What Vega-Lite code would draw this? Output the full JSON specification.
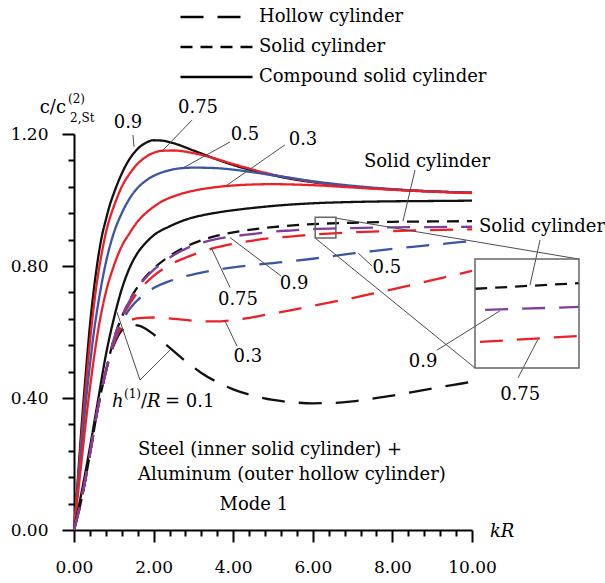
{
  "$schema": "https://vega.github.io/schema/vega-lite/v6.json",
  "width": 398,
  "height": 396,
  "autosize": {"type": "none"},
  "padding": {"left": 74, "top": 134, "right": 133, "bottom": 53},
  "background": "white",
  "config": {"view": {"stroke": null}, "font": "DejaVu Serif"},
  "datasets": {
    "curves": [
      {"s":"C0.9","t":"Compound solid cylinder","x":0,"y":0},{"s":"C0.9","t":"Compound solid cylinder","x":0.1,"y":0.16},{"s":"C0.9","t":"Compound solid cylinder","x":0.2,"y":0.33},{"s":"C0.9","t":"Compound solid cylinder","x":0.3,"y":0.48},{"s":"C0.9","t":"Compound solid cylinder","x":0.4,"y":0.62},{"s":"C0.9","t":"Compound solid cylinder","x":0.5,"y":0.73},{"s":"C0.9","t":"Compound solid cylinder","x":0.6,"y":0.82},{"s":"C0.9","t":"Compound solid cylinder","x":0.7,"y":0.89},{"s":"C0.9","t":"Compound solid cylinder","x":0.8,"y":0.94},{"s":"C0.9","t":"Compound solid cylinder","x":0.9,"y":0.985},{"s":"C0.9","t":"Compound solid cylinder","x":1.0,"y":1.02},{"s":"C0.9","t":"Compound solid cylinder","x":1.2,"y":1.08},{"s":"C0.9","t":"Compound solid cylinder","x":1.4,"y":1.125},{"s":"C0.9","t":"Compound solid cylinder","x":1.6,"y":1.155},{"s":"C0.9","t":"Compound solid cylinder","x":1.8,"y":1.173},{"s":"C0.9","t":"Compound solid cylinder","x":2.0,"y":1.181},{"s":"C0.9","t":"Compound solid cylinder","x":2.2,"y":1.18},{"s":"C0.9","t":"Compound solid cylinder","x":2.5,"y":1.172},{"s":"C0.9","t":"Compound solid cylinder","x":3.0,"y":1.15},{"s":"C0.9","t":"Compound solid cylinder","x":3.5,"y":1.127},{"s":"C0.9","t":"Compound solid cylinder","x":4.0,"y":1.106},{"s":"C0.9","t":"Compound solid cylinder","x":4.5,"y":1.089},{"s":"C0.9","t":"Compound solid cylinder","x":5.0,"y":1.075},{"s":"C0.9","t":"Compound solid cylinder","x":5.5,"y":1.063},{"s":"C0.9","t":"Compound solid cylinder","x":6,"y":1.054},{"s":"C0.9","t":"Compound solid cylinder","x":7,"y":1.04},{"s":"C0.9","t":"Compound solid cylinder","x":8,"y":1.032},{"s":"C0.9","t":"Compound solid cylinder","x":9,"y":1.026},{"s":"C0.9","t":"Compound solid cylinder","x":10,"y":1.022},

      {"s":"C0.75","t":"Compound solid cylinder","x":0,"y":0},{"s":"C0.75","t":"Compound solid cylinder","x":0.1,"y":0.15},{"s":"C0.75","t":"Compound solid cylinder","x":0.2,"y":0.3},{"s":"C0.75","t":"Compound solid cylinder","x":0.3,"y":0.44},{"s":"C0.75","t":"Compound solid cylinder","x":0.4,"y":0.57},{"s":"C0.75","t":"Compound solid cylinder","x":0.5,"y":0.68},{"s":"C0.75","t":"Compound solid cylinder","x":0.6,"y":0.77},{"s":"C0.75","t":"Compound solid cylinder","x":0.7,"y":0.84},{"s":"C0.75","t":"Compound solid cylinder","x":0.8,"y":0.9},{"s":"C0.75","t":"Compound solid cylinder","x":0.9,"y":0.945},{"s":"C0.75","t":"Compound solid cylinder","x":1.0,"y":0.98},{"s":"C0.75","t":"Compound solid cylinder","x":1.2,"y":1.04},{"s":"C0.75","t":"Compound solid cylinder","x":1.4,"y":1.08},{"s":"C0.75","t":"Compound solid cylinder","x":1.6,"y":1.11},{"s":"C0.75","t":"Compound solid cylinder","x":1.8,"y":1.13},{"s":"C0.75","t":"Compound solid cylinder","x":2.0,"y":1.143},{"s":"C0.75","t":"Compound solid cylinder","x":2.2,"y":1.149},{"s":"C0.75","t":"Compound solid cylinder","x":2.5,"y":1.15},{"s":"C0.75","t":"Compound solid cylinder","x":3.0,"y":1.142},{"s":"C0.75","t":"Compound solid cylinder","x":3.5,"y":1.127},{"s":"C0.75","t":"Compound solid cylinder","x":4.0,"y":1.109},{"s":"C0.75","t":"Compound solid cylinder","x":4.5,"y":1.092},{"s":"C0.75","t":"Compound solid cylinder","x":5.0,"y":1.077},{"s":"C0.75","t":"Compound solid cylinder","x":5.5,"y":1.065},{"s":"C0.75","t":"Compound solid cylinder","x":6,"y":1.055},{"s":"C0.75","t":"Compound solid cylinder","x":7,"y":1.041},{"s":"C0.75","t":"Compound solid cylinder","x":8,"y":1.032},{"s":"C0.75","t":"Compound solid cylinder","x":9,"y":1.026},{"s":"C0.75","t":"Compound solid cylinder","x":10,"y":1.022},

      {"s":"C0.5","t":"Compound solid cylinder","x":0,"y":0},{"s":"C0.5","t":"Compound solid cylinder","x":0.1,"y":0.13},{"s":"C0.5","t":"Compound solid cylinder","x":0.2,"y":0.26},{"s":"C0.5","t":"Compound solid cylinder","x":0.3,"y":0.39},{"s":"C0.5","t":"Compound solid cylinder","x":0.4,"y":0.5},{"s":"C0.5","t":"Compound solid cylinder","x":0.5,"y":0.6},{"s":"C0.5","t":"Compound solid cylinder","x":0.6,"y":0.68},{"s":"C0.5","t":"Compound solid cylinder","x":0.7,"y":0.75},{"s":"C0.5","t":"Compound solid cylinder","x":0.8,"y":0.81},{"s":"C0.5","t":"Compound solid cylinder","x":1.0,"y":0.9},{"s":"C0.5","t":"Compound solid cylinder","x":1.2,"y":0.96},{"s":"C0.5","t":"Compound solid cylinder","x":1.4,"y":1.005},{"s":"C0.5","t":"Compound solid cylinder","x":1.6,"y":1.037},{"s":"C0.5","t":"Compound solid cylinder","x":1.8,"y":1.058},{"s":"C0.5","t":"Compound solid cylinder","x":2.0,"y":1.073},{"s":"C0.5","t":"Compound solid cylinder","x":2.3,"y":1.087},{"s":"C0.5","t":"Compound solid cylinder","x":2.6,"y":1.095},{"s":"C0.5","t":"Compound solid cylinder","x":3.0,"y":1.098},{"s":"C0.5","t":"Compound solid cylinder","x":3.5,"y":1.097},{"s":"C0.5","t":"Compound solid cylinder","x":4.0,"y":1.092},{"s":"C0.5","t":"Compound solid cylinder","x":4.5,"y":1.084},{"s":"C0.5","t":"Compound solid cylinder","x":5.0,"y":1.075},{"s":"C0.5","t":"Compound solid cylinder","x":5.5,"y":1.066},{"s":"C0.5","t":"Compound solid cylinder","x":6,"y":1.057},{"s":"C0.5","t":"Compound solid cylinder","x":7,"y":1.043},{"s":"C0.5","t":"Compound solid cylinder","x":8,"y":1.033},{"s":"C0.5","t":"Compound solid cylinder","x":9,"y":1.026},{"s":"C0.5","t":"Compound solid cylinder","x":10,"y":1.022},

      {"s":"C0.3","t":"Compound solid cylinder","x":0,"y":0},{"s":"C0.3","t":"Compound solid cylinder","x":0.1,"y":0.11},{"s":"C0.3","t":"Compound solid cylinder","x":0.2,"y":0.22},{"s":"C0.3","t":"Compound solid cylinder","x":0.3,"y":0.33},{"s":"C0.3","t":"Compound solid cylinder","x":0.4,"y":0.43},{"s":"C0.3","t":"Compound solid cylinder","x":0.5,"y":0.52},{"s":"C0.3","t":"Compound solid cylinder","x":0.6,"y":0.6},{"s":"C0.3","t":"Compound solid cylinder","x":0.8,"y":0.72},{"s":"C0.3","t":"Compound solid cylinder","x":1.0,"y":0.8},{"s":"C0.3","t":"Compound solid cylinder","x":1.2,"y":0.86},{"s":"C0.3","t":"Compound solid cylinder","x":1.4,"y":0.9},{"s":"C0.3","t":"Compound solid cylinder","x":1.6,"y":0.935},{"s":"C0.3","t":"Compound solid cylinder","x":1.9,"y":0.97},{"s":"C0.3","t":"Compound solid cylinder","x":2.2,"y":0.995},{"s":"C0.3","t":"Compound solid cylinder","x":2.6,"y":1.015},{"s":"C0.3","t":"Compound solid cylinder","x":3.0,"y":1.028},{"s":"C0.3","t":"Compound solid cylinder","x":3.5,"y":1.038},{"s":"C0.3","t":"Compound solid cylinder","x":4.0,"y":1.044},{"s":"C0.3","t":"Compound solid cylinder","x":4.5,"y":1.047},{"s":"C0.3","t":"Compound solid cylinder","x":5.0,"y":1.048},{"s":"C0.3","t":"Compound solid cylinder","x":5.5,"y":1.047},{"s":"C0.3","t":"Compound solid cylinder","x":6,"y":1.045},{"s":"C0.3","t":"Compound solid cylinder","x":7,"y":1.038},{"s":"C0.3","t":"Compound solid cylinder","x":8,"y":1.031},{"s":"C0.3","t":"Compound solid cylinder","x":9,"y":1.025},{"s":"C0.3","t":"Compound solid cylinder","x":10,"y":1.021},

      {"s":"C0.1","t":"Compound solid cylinder","x":0,"y":0},{"s":"C0.1","t":"Compound solid cylinder","x":0.2,"y":0.12},{"s":"C0.1","t":"Compound solid cylinder","x":0.4,"y":0.25},{"s":"C0.1","t":"Compound solid cylinder","x":0.6,"y":0.39},{"s":"C0.1","t":"Compound solid cylinder","x":0.8,"y":0.53},{"s":"C0.1","t":"Compound solid cylinder","x":1.0,"y":0.64},{"s":"C0.1","t":"Compound solid cylinder","x":1.2,"y":0.73},{"s":"C0.1","t":"Compound solid cylinder","x":1.4,"y":0.795},{"s":"C0.1","t":"Compound solid cylinder","x":1.6,"y":0.84},{"s":"C0.1","t":"Compound solid cylinder","x":1.8,"y":0.87},{"s":"C0.1","t":"Compound solid cylinder","x":2.0,"y":0.893},{"s":"C0.1","t":"Compound solid cylinder","x":2.4,"y":0.92},{"s":"C0.1","t":"Compound solid cylinder","x":2.8,"y":0.94},{"s":"C0.1","t":"Compound solid cylinder","x":3.2,"y":0.953},{"s":"C0.1","t":"Compound solid cylinder","x":3.6,"y":0.962},{"s":"C0.1","t":"Compound solid cylinder","x":4.0,"y":0.969},{"s":"C0.1","t":"Compound solid cylinder","x":4.5,"y":0.976},{"s":"C0.1","t":"Compound solid cylinder","x":5.0,"y":0.982},{"s":"C0.1","t":"Compound solid cylinder","x":6,"y":0.99},{"s":"C0.1","t":"Compound solid cylinder","x":7,"y":0.994},{"s":"C0.1","t":"Compound solid cylinder","x":8,"y":0.996},{"s":"C0.1","t":"Compound solid cylinder","x":9,"y":0.997},{"s":"C0.1","t":"Compound solid cylinder","x":10,"y":0.998},

      {"s":"S","t":"Solid cylinder","x":0,"y":0},{"s":"S","t":"Solid cylinder","x":0.2,"y":0.1},{"s":"S","t":"Solid cylinder","x":0.4,"y":0.23},{"s":"S","t":"Solid cylinder","x":0.6,"y":0.37},{"s":"S","t":"Solid cylinder","x":0.8,"y":0.48},{"s":"S","t":"Solid cylinder","x":1.0,"y":0.578},{"s":"S","t":"Solid cylinder","x":1.2,"y":0.645},{"s":"S","t":"Solid cylinder","x":1.4,"y":0.697},{"s":"S","t":"Solid cylinder","x":1.7,"y":0.753},{"s":"S","t":"Solid cylinder","x":2.0,"y":0.792},{"s":"S","t":"Solid cylinder","x":2.4,"y":0.83},{"s":"S","t":"Solid cylinder","x":2.8,"y":0.858},{"s":"S","t":"Solid cylinder","x":3.2,"y":0.878},{"s":"S","t":"Solid cylinder","x":3.6,"y":0.892},{"s":"S","t":"Solid cylinder","x":4.0,"y":0.902},{"s":"S","t":"Solid cylinder","x":4.5,"y":0.911},{"s":"S","t":"Solid cylinder","x":5.0,"y":0.918},{"s":"S","t":"Solid cylinder","x":5.5,"y":0.923},{"s":"S","t":"Solid cylinder","x":6,"y":0.927},{"s":"S","t":"Solid cylinder","x":7,"y":0.931},{"s":"S","t":"Solid cylinder","x":8,"y":0.934},{"s":"S","t":"Solid cylinder","x":9,"y":0.935},{"s":"S","t":"Solid cylinder","x":10,"y":0.936},

      {"s":"H0.1","t":"Hollow cylinder","x":0,"y":0},{"s":"H0.1","t":"Hollow cylinder","x":0.2,"y":0.1},{"s":"H0.1","t":"Hollow cylinder","x":0.4,"y":0.23},{"s":"H0.1","t":"Hollow cylinder","x":0.6,"y":0.37},{"s":"H0.1","t":"Hollow cylinder","x":0.8,"y":0.48},{"s":"H0.1","t":"Hollow cylinder","x":1.0,"y":0.56},{"s":"H0.1","t":"Hollow cylinder","x":1.2,"y":0.605},{"s":"H0.1","t":"Hollow cylinder","x":1.4,"y":0.622},{"s":"H0.1","t":"Hollow cylinder","x":1.6,"y":0.62},{"s":"H0.1","t":"Hollow cylinder","x":1.8,"y":0.61},{"s":"H0.1","t":"Hollow cylinder","x":2.0,"y":0.593},{"s":"H0.1","t":"Hollow cylinder","x":2.4,"y":0.553},{"s":"H0.1","t":"Hollow cylinder","x":2.8,"y":0.512},{"s":"H0.1","t":"Hollow cylinder","x":3.2,"y":0.476},{"s":"H0.1","t":"Hollow cylinder","x":3.6,"y":0.448},{"s":"H0.1","t":"Hollow cylinder","x":4.0,"y":0.426},{"s":"H0.1","t":"Hollow cylinder","x":4.5,"y":0.407},{"s":"H0.1","t":"Hollow cylinder","x":5.0,"y":0.394},{"s":"H0.1","t":"Hollow cylinder","x":5.5,"y":0.387},{"s":"H0.1","t":"Hollow cylinder","x":6.0,"y":0.384},{"s":"H0.1","t":"Hollow cylinder","x":6.5,"y":0.385},{"s":"H0.1","t":"Hollow cylinder","x":7.0,"y":0.39},{"s":"H0.1","t":"Hollow cylinder","x":7.5,"y":0.398},{"s":"H0.1","t":"Hollow cylinder","x":8.0,"y":0.407},{"s":"H0.1","t":"Hollow cylinder","x":8.5,"y":0.418},{"s":"H0.1","t":"Hollow cylinder","x":9.0,"y":0.429},{"s":"H0.1","t":"Hollow cylinder","x":9.5,"y":0.439},{"s":"H0.1","t":"Hollow cylinder","x":10,"y":0.449},

      {"s":"H0.3","t":"Hollow cylinder","x":0,"y":0},{"s":"H0.3","t":"Hollow cylinder","x":0.2,"y":0.1},{"s":"H0.3","t":"Hollow cylinder","x":0.4,"y":0.23},{"s":"H0.3","t":"Hollow cylinder","x":0.6,"y":0.37},{"s":"H0.3","t":"Hollow cylinder","x":0.8,"y":0.48},{"s":"H0.3","t":"Hollow cylinder","x":1.0,"y":0.565},{"s":"H0.3","t":"Hollow cylinder","x":1.2,"y":0.615},{"s":"H0.3","t":"Hollow cylinder","x":1.4,"y":0.635},{"s":"H0.3","t":"Hollow cylinder","x":1.7,"y":0.643},{"s":"H0.3","t":"Hollow cylinder","x":2.0,"y":0.644},{"s":"H0.3","t":"Hollow cylinder","x":2.5,"y":0.64},{"s":"H0.3","t":"Hollow cylinder","x":3.0,"y":0.634},{"s":"H0.3","t":"Hollow cylinder","x":3.5,"y":0.632},{"s":"H0.3","t":"Hollow cylinder","x":4.0,"y":0.636},{"s":"H0.3","t":"Hollow cylinder","x":4.5,"y":0.645},{"s":"H0.3","t":"Hollow cylinder","x":5.0,"y":0.656},{"s":"H0.3","t":"Hollow cylinder","x":5.5,"y":0.667},{"s":"H0.3","t":"Hollow cylinder","x":6.0,"y":0.679},{"s":"H0.3","t":"Hollow cylinder","x":6.5,"y":0.691},{"s":"H0.3","t":"Hollow cylinder","x":7.0,"y":0.703},{"s":"H0.3","t":"Hollow cylinder","x":7.5,"y":0.716},{"s":"H0.3","t":"Hollow cylinder","x":8.0,"y":0.729},{"s":"H0.3","t":"Hollow cylinder","x":8.5,"y":0.743},{"s":"H0.3","t":"Hollow cylinder","x":9.0,"y":0.757},{"s":"H0.3","t":"Hollow cylinder","x":9.5,"y":0.771},{"s":"H0.3","t":"Hollow cylinder","x":10,"y":0.785},

      {"s":"H0.5","t":"Hollow cylinder","x":0,"y":0},{"s":"H0.5","t":"Hollow cylinder","x":0.2,"y":0.1},{"s":"H0.5","t":"Hollow cylinder","x":0.4,"y":0.23},{"s":"H0.5","t":"Hollow cylinder","x":0.6,"y":0.37},{"s":"H0.5","t":"Hollow cylinder","x":0.8,"y":0.48},{"s":"H0.5","t":"Hollow cylinder","x":1.0,"y":0.57},{"s":"H0.5","t":"Hollow cylinder","x":1.2,"y":0.63},{"s":"H0.5","t":"Hollow cylinder","x":1.4,"y":0.67},{"s":"H0.5","t":"Hollow cylinder","x":1.7,"y":0.708},{"s":"H0.5","t":"Hollow cylinder","x":2.0,"y":0.733},{"s":"H0.5","t":"Hollow cylinder","x":2.4,"y":0.754},{"s":"H0.5","t":"Hollow cylinder","x":2.8,"y":0.769},{"s":"H0.5","t":"Hollow cylinder","x":3.2,"y":0.78},{"s":"H0.5","t":"Hollow cylinder","x":3.6,"y":0.789},{"s":"H0.5","t":"Hollow cylinder","x":4.0,"y":0.796},{"s":"H0.5","t":"Hollow cylinder","x":4.5,"y":0.803},{"s":"H0.5","t":"Hollow cylinder","x":5.0,"y":0.809},{"s":"H0.5","t":"Hollow cylinder","x":5.5,"y":0.815},{"s":"H0.5","t":"Hollow cylinder","x":6.0,"y":0.822},{"s":"H0.5","t":"Hollow cylinder","x":6.5,"y":0.83},{"s":"H0.5","t":"Hollow cylinder","x":7.0,"y":0.838},{"s":"H0.5","t":"Hollow cylinder","x":7.5,"y":0.845},{"s":"H0.5","t":"Hollow cylinder","x":8.0,"y":0.852},{"s":"H0.5","t":"Hollow cylinder","x":8.5,"y":0.858},{"s":"H0.5","t":"Hollow cylinder","x":9.0,"y":0.864},{"s":"H0.5","t":"Hollow cylinder","x":9.5,"y":0.87},{"s":"H0.5","t":"Hollow cylinder","x":10,"y":0.876},

      {"s":"H0.75","t":"Hollow cylinder","x":0,"y":0},{"s":"H0.75","t":"Hollow cylinder","x":0.2,"y":0.1},{"s":"H0.75","t":"Hollow cylinder","x":0.4,"y":0.23},{"s":"H0.75","t":"Hollow cylinder","x":0.6,"y":0.37},{"s":"H0.75","t":"Hollow cylinder","x":0.8,"y":0.48},{"s":"H0.75","t":"Hollow cylinder","x":1.0,"y":0.575},{"s":"H0.75","t":"Hollow cylinder","x":1.2,"y":0.64},{"s":"H0.75","t":"Hollow cylinder","x":1.4,"y":0.685},{"s":"H0.75","t":"Hollow cylinder","x":1.7,"y":0.735},{"s":"H0.75","t":"Hollow cylinder","x":2.0,"y":0.77},{"s":"H0.75","t":"Hollow cylinder","x":2.4,"y":0.803},{"s":"H0.75","t":"Hollow cylinder","x":2.8,"y":0.825},{"s":"H0.75","t":"Hollow cylinder","x":3.2,"y":0.843},{"s":"H0.75","t":"Hollow cylinder","x":3.6,"y":0.857},{"s":"H0.75","t":"Hollow cylinder","x":4.0,"y":0.867},{"s":"H0.75","t":"Hollow cylinder","x":4.5,"y":0.877},{"s":"H0.75","t":"Hollow cylinder","x":5.0,"y":0.885},{"s":"H0.75","t":"Hollow cylinder","x":5.5,"y":0.89},{"s":"H0.75","t":"Hollow cylinder","x":6.0,"y":0.895},{"s":"H0.75","t":"Hollow cylinder","x":7.0,"y":0.902},{"s":"H0.75","t":"Hollow cylinder","x":8.0,"y":0.906},{"s":"H0.75","t":"Hollow cylinder","x":9.0,"y":0.909},{"s":"H0.75","t":"Hollow cylinder","x":10,"y":0.911},

      {"s":"H0.9","t":"Hollow cylinder","x":0,"y":0},{"s":"H0.9","t":"Hollow cylinder","x":0.2,"y":0.1},{"s":"H0.9","t":"Hollow cylinder","x":0.4,"y":0.23},{"s":"H0.9","t":"Hollow cylinder","x":0.6,"y":0.37},{"s":"H0.9","t":"Hollow cylinder","x":0.8,"y":0.48},{"s":"H0.9","t":"Hollow cylinder","x":1.0,"y":0.578},{"s":"H0.9","t":"Hollow cylinder","x":1.2,"y":0.645},{"s":"H0.9","t":"Hollow cylinder","x":1.4,"y":0.695},{"s":"H0.9","t":"Hollow cylinder","x":1.7,"y":0.75},{"s":"H0.9","t":"Hollow cylinder","x":2.0,"y":0.788},{"s":"H0.9","t":"Hollow cylinder","x":2.4,"y":0.825},{"s":"H0.9","t":"Hollow cylinder","x":2.8,"y":0.852},{"s":"H0.9","t":"Hollow cylinder","x":3.2,"y":0.87},{"s":"H0.9","t":"Hollow cylinder","x":3.6,"y":0.882},{"s":"H0.9","t":"Hollow cylinder","x":4.0,"y":0.89},{"s":"H0.9","t":"Hollow cylinder","x":4.5,"y":0.897},{"s":"H0.9","t":"Hollow cylinder","x":5.0,"y":0.904},{"s":"H0.9","t":"Hollow cylinder","x":5.5,"y":0.908},{"s":"H0.9","t":"Hollow cylinder","x":6.0,"y":0.912},{"s":"H0.9","t":"Hollow cylinder","x":7.0,"y":0.915},{"s":"H0.9","t":"Hollow cylinder","x":8.0,"y":0.917},{"s":"H0.9","t":"Hollow cylinder","x":9.0,"y":0.918},{"s":"H0.9","t":"Hollow cylinder","x":10,"y":0.919},

      {"s":"IS","t":"Solid cylinder","x":10.08,"y":0.731},{"s":"IS","t":"Solid cylinder","x":12.69,"y":0.748},
      {"s":"I0.75","t":"Hollow cylinder","x":10.2,"y":0.57},{"s":"I0.75","t":"Hollow cylinder","x":12.69,"y":0.588},
      {"s":"I0.9","t":"Hollow cylinder","x":10.33,"y":0.667},{"s":"I0.9","t":"Hollow cylinder","x":12.69,"y":0.676}
    ],
    "links": [
      {"x":1.482,"y":1.197,"x2":1.508,"y2":1.161},
      {"x":2.965,"y":1.242,"x2":2.211,"y2":1.148},
      {"x":3.92,"y":1.176,"x2":2.739,"y2":1.097},
      {"x":5.3,"y":1.167,"x2":3.844,"y2":1.045},
      {"x":8.568,"y":1.091,"x2":8.266,"y2":0.936},
      {"x":3.92,"y":0.735,"x2":3.45,"y2":0.855},
      {"x":3.92,"y":0.886,"x2":5.2,"y2":0.77},
      {"x":7.14,"y":0.839,"x2":7.49,"y2":0.8},
      {"x":3.8,"y":0.632,"x2":4.1,"y2":0.556},
      {"x":11.71,"y":0.879,"x2":11.457,"y2":0.742},
      {"x":9.12,"y":0.545,"x2":10.7,"y2":0.664},
      {"x":11.156,"y":0.461,"x2":11.658,"y2":0.578},
      {"x":1.658,"y":0.4545,"x2":1.08,"y2":0.66},
      {"x":1.658,"y":0.4545,"x2":2.412,"y2":0.545},
      {"x":6.583,"y":0.945,"x2":12.688,"y2":0.821},
      {"x":6.055,"y":0.885,"x2":10.075,"y2":0.491}
    ],
    "boxes": [
      {"x":6.06,"y":0.885,"x2":6.58,"y2":0.948},
      {"x":10.075,"y":0.491,"x2":12.688,"y2":0.821}
    ],
    "centered": [
      {"x":1.357,"y":1.233,"text":"0.9"},
      {"x":3.116,"y":1.279,"text":"0.75"},
      {"x":4.296,"y":1.197,"text":"0.5"},
      {"x":5.754,"y":1.182,"text":"0.3"},
      {"x":8.869,"y":1.115,"text":"Solid cylinder"},
      {"x":11.76,"y":0.918,"text":"Solid cylinder"},
      {"x":4.12,"y":0.697,"text":"0.75"},
      {"x":5.53,"y":0.745,"text":"0.9"},
      {"x":7.86,"y":0.794,"text":"0.5"},
      {"x":4.37,"y":0.524,"text":"0.3"},
      {"x":8.77,"y":0.509,"text":"0.9"},
      {"x":11.21,"y":0.409,"text":"0.75"},
      {"x":4.52,"y":0.0758,"text":"Mode 1"}
    ],
    "leftnotes": [
      {"x":1.608,"y":0.2424,"text":"Steel (inner solid cylinder) +"},
      {"x":1.608,"y":0.1667,"text":"Aluminum (outer hollow cylinder)"}
    ],
    "regular": [
      {"x":1.683,"y":0.3727,"text":"/"},
      {"x":2.286,"y":0.3727,"text":"= 0.1"}
    ],
    "italic": [
      {"x":0.955,"y":0.3727,"text":"h"},
      {"x":1.834,"y":0.3727,"text":"R"},
      {"x":10.45,"y":-0.021,"text":"kR"}
    ],
    "small": [
      {"x":1.256,"y":0.4,"text":"(1)"},
      {"x":-0.151,"y":1.294,"text":"(2)"},
      {"x":-0.1,"y":1.236,"text":"2,St"}
    ],
    "ytitle": [
      {"x":-0.201,"y":1.264,"text":"c/c"}
    ]
  },
  "layer": [
    {
      "data": {"name": "curves"},
      "mark": {"type": "line", "strokeWidth": 2.3, "interpolate": "monotone"},
      "encoding": {
        "x": {"field": "x", "type": "quantitative",
          "scale": {"domain": [0, 10], "nice": false, "zero": false},
          "axis": {"orient": "bottom", "values": [0, 2, 4, 6, 8, 10], "format": ".2f", "title": null, "grid": false,
            "domainColor": "black", "domainWidth": 2, "tickColor": "black", "tickWidth": 2, "tickSize": 12,
            "labelFont": "DejaVu Serif", "labelFontSize": 17, "labelColor": "black", "labelPadding": 17,
            "labelFlush": false, "labelOverlap": false}},
        "y": {"field": "y", "type": "quantitative",
          "scale": {"domain": [0, 1.2], "nice": false, "zero": false},
          "axis": {"orient": "left", "values": [0, 0.4, 0.8, 1.2], "format": ".2f", "title": null, "grid": false,
            "domainColor": "black", "domainWidth": 2, "tickColor": "black", "tickWidth": 2, "tickSize": 12,
            "labelFont": "DejaVu Serif", "labelFontSize": 17, "labelColor": "black", "labelPadding": 14,
            "labelFlush": false, "labelOverlap": false}},
        "color": {"field": "s", "type": "nominal", "legend": null,
          "scale": {
            "domain": ["C0.9","C0.75","C0.5","C0.3","C0.1","S","H0.1","H0.3","H0.5","H0.75","H0.9","IS","I0.75","I0.9"],
            "range": ["#111111","#ee2027","#3b55a8","#ee2027","#111111","#111111","#111111","#ee2027","#3b55a8","#ee2027","#7e3f9d","#111111","#ee2027","#7e3f9d"]}},
        "strokeDash": {"field": "t", "type": "nominal",
          "scale": {"domain": ["Hollow cylinder", "Solid cylinder", "Compound solid cylinder"], "range": [[23, 14], [12, 8], [1, 0]]},
          "legend": {"title": null, "orient": "none", "legendX": 105, "legendY": -128, "direction": "vertical",
            "symbolType": "stroke", "symbolSize": 5184, "symbolStrokeWidth": 2.5, "symbolStrokeColor": "black",
            "clipHeight": 22, "rowPadding": 8, "labelOffset": 5, "labelFont": "DejaVu Serif", "labelFontSize": 18,
            "labelColor": "black", "labelLimit": 400}}
      }
    },
    {
      "data": {"name": "links"},
      "mark": {"type": "rule", "color": "#4d4d4d", "strokeWidth": 1},
      "encoding": {
        "x": {"field": "x", "type": "quantitative",
          "axis": {"orient": "bottom", "values": [0.4,0.8,1.2,1.6,2.4,2.8,3.2,3.6,4.4,4.8,5.2,5.6,6.4,6.8,7.2,7.6,8.4,8.8,9.2,9.6],
            "labels": false, "domain": false, "grid": false, "title": null, "tickSize": 6, "tickWidth": 2, "tickColor": "black"}},
        "y": {"field": "y", "type": "quantitative",
          "axis": {"orient": "left", "values": [0.08,0.16,0.24,0.32,0.48,0.56,0.64,0.72,0.88,0.96,1.04,1.12],
            "labels": false, "domain": false, "grid": false, "title": null, "tickSize": 6, "tickWidth": 2, "tickColor": "black"}},
        "x2": {"field": "x2"},
        "y2": {"field": "y2"}
      }
    },
    {
      "data": {"name": "boxes"},
      "mark": {"type": "rect", "fill": null, "fillOpacity": 0, "stroke": "#666666", "strokeWidth": 1.5},
      "encoding": {
        "x": {"field": "x", "type": "quantitative", "axis": null},
        "y": {"field": "y", "type": "quantitative", "axis": null},
        "x2": {"field": "x2"},
        "y2": {"field": "y2"}
      }
    },
    {
      "data": {"name": "centered"},
      "mark": {"type": "text", "font": "DejaVu Serif", "fontSize": 18, "color": "black", "align": "center", "baseline": "middle"},
      "encoding": {
        "x": {"field": "x", "type": "quantitative", "axis": null},
        "y": {"field": "y", "type": "quantitative", "axis": null},
        "text": {"field": "text"}
      }
    },
    {
      "data": {"name": "leftnotes"},
      "mark": {"type": "text", "font": "DejaVu Serif", "fontSize": 18, "color": "black", "align": "left", "baseline": "middle"},
      "encoding": {
        "x": {"field": "x", "type": "quantitative", "axis": null},
        "y": {"field": "y", "type": "quantitative", "axis": null},
        "text": {"field": "text"}
      }
    },
    {
      "data": {"name": "regular"},
      "mark": {"type": "text", "font": "DejaVu Serif", "fontSize": 18, "color": "black", "align": "left", "baseline": "alphabetic"},
      "encoding": {
        "x": {"field": "x", "type": "quantitative", "axis": null},
        "y": {"field": "y", "type": "quantitative", "axis": null},
        "text": {"field": "text"}
      }
    },
    {
      "data": {"name": "italic"},
      "mark": {"type": "text", "font": "DejaVu Serif", "fontSize": 18, "fontStyle": "italic", "color": "black", "align": "left", "baseline": "alphabetic"},
      "encoding": {
        "x": {"field": "x", "type": "quantitative", "axis": null},
        "y": {"field": "y", "type": "quantitative", "axis": null},
        "text": {"field": "text"}
      }
    },
    {
      "data": {"name": "small"},
      "mark": {"type": "text", "font": "DejaVu Serif", "fontSize": 12, "color": "black", "align": "left", "baseline": "alphabetic"},
      "encoding": {
        "x": {"field": "x", "type": "quantitative", "axis": null},
        "y": {"field": "y", "type": "quantitative", "axis": null},
        "text": {"field": "text"}
      }
    },
    {
      "data": {"name": "ytitle"},
      "mark": {"type": "text", "font": "DejaVu Serif", "fontSize": 18, "color": "black", "align": "right", "baseline": "alphabetic"},
      "encoding": {
        "x": {"field": "x", "type": "quantitative", "axis": null},
        "y": {"field": "y", "type": "quantitative", "axis": null},
        "text": {"field": "text"}
      }
    }
  ],
  "resolve": {"axis": {"x": "independent", "y": "independent"}}
}
